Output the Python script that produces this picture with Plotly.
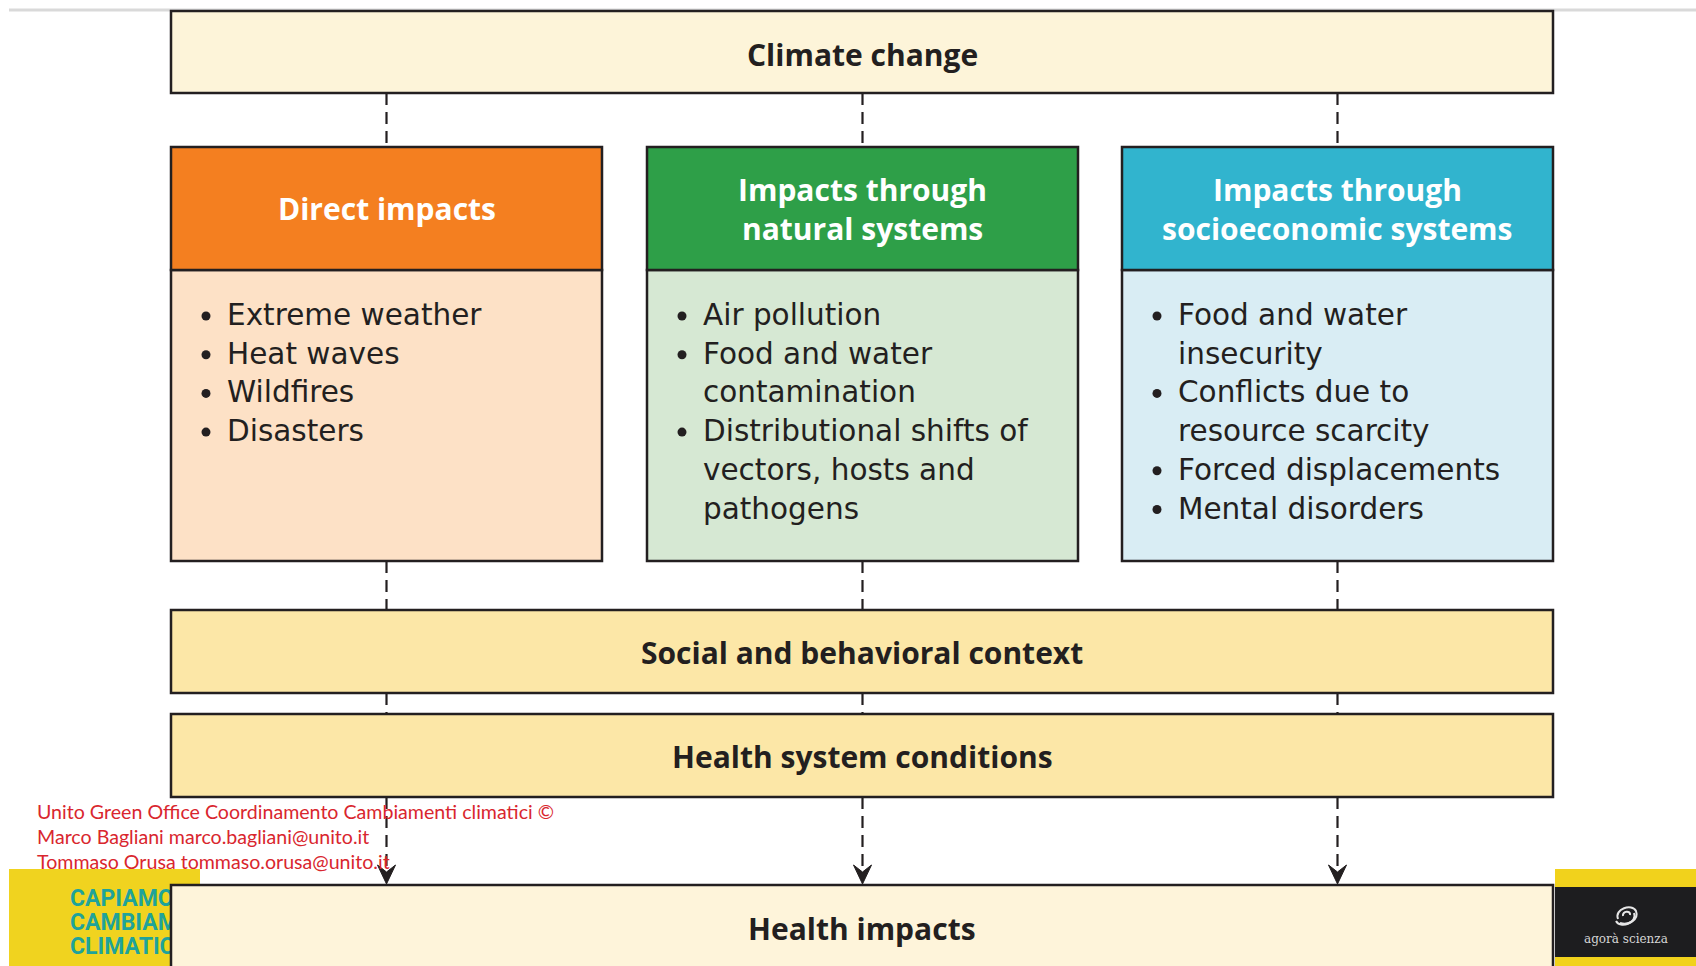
import plotly.graph_objects as go

# ---------------- content ----------------
TOP_LABEL = "Climate change"
PATHWAY_TITLES = [
    ["Direct impacts"],
    ["Impacts through", "natural systems"],
    ["Impacts through", "socioeconomic systems"],
]
PATHWAY_ITEMS = [
    [["Extreme weather"], ["Heat waves"], ["Wildfires"], ["Disasters"]],
    [["Air pollution"], ["Food and water", "contamination"],
     ["Distributional shifts of", "vectors, hosts and", "pathogens"]],
    [["Food and water", "insecurity"], ["Conflicts due to", "resource scarcity"],
     ["Forced displacements"], ["Mental disorders"]],
]
MODIFIER_LABELS = ["Social and behavioral context", "Health system conditions"]
OUTCOME_LABEL = "Health impacts"
CREDIT_LINES = [
    "Unito Green Office Coordinamento Cambiamenti climatici ©",
    "Marco Bagliani marco.bagliani@unito.it",
    "Tommaso Orusa tommaso.orusa@unito.it",
]
LOGO_LEFT_LINES = ["CAPIAMO", "CAMBIAMENTI", "CLIMATICI"]
LOGO_RIGHT_TEXT = "agorà scienza"

# ---------------- styles ----------------
HEADER_COLORS = ["#F47F20", "#2E9F48", "#31B4CE"]
BODY_COLORS = ["#FDE1C6", "#D6E8D3", "#D9EDF4"]
TOP_FILL = "#FDF4D9"
MOD_FILL = "#FCE7A7"
OUT_FILL = "#FEF4DA"
INK = "#231F20"
RED = "#D9262E"

W, H = 1696, 966
X_L, X_R = 171, 1553
COL_X0 = [171, 647, 1122]
COL_W = 431
TOP_Y = (11, 93)
COL_Y = (147, 270, 561)
MOD_Y = [(610, 693), (714, 797)]
OUT_Y = (885, 990)
LINE_H = 38.7
HEAD_LINE_H = 39
HEAD_FONT = "Open Sans"
BODY_FONT = "DejaVu Sans"

fig = go.Figure()

def rect(x0, y0, x1, y1, fill, lw=2.5, lc=INK, layer="above"):
    fig.add_shape(type="rect", x0=x0, y0=y0, x1=x1, y1=y1, xref="x", yref="y",
                  fillcolor=fill, line=dict(color=lc, width=lw), layer=layer)

def label(x, y, s, size, color, anchor="center", family=HEAD_FONT):
    fig.add_annotation(x=x, y=y, xref="x", yref="y", text=s, showarrow=False,
                       xanchor=anchor, yanchor="middle",
                       font=dict(family=family, size=size, color=color))

def dashed(x, y0, y1):
    fig.add_shape(type="line", x0=x, x1=x, y0=y0, y1=y1, xref="x", yref="y",
                  line=dict(color=INK, width=2.2, dash="12px,7px"), layer="above")

# top grey rule
fig.add_shape(type="line", x0=9, x1=W, y0=10, y1=10, xref="x", yref="y",
              line=dict(color="#D9D9D9", width=3), layer="below")

# left logo background (under the text trace)
fig.add_shape(type="rect", x0=9, y0=869, x1=200, y1=H + 5, xref="x", yref="y",
              fillcolor="#F0D31F", line=dict(width=0), layer="below")
fig.add_trace(go.Scatter(
    x=[70, 70, 70], y=[900, 924, 948], mode="text",
    text=["<b>%s</b>" % t for t in LOGO_LEFT_LINES], textposition="middle right",
    textfont=dict(family="Roboto", size=23, color="#1FA39A"),
    hoverinfo="skip", showlegend=False))

# climate change box
rect(X_L, TOP_Y[0], X_R, TOP_Y[1], TOP_FILL)
label((X_L + X_R) / 2, 54, "<b>%s</b>" % TOP_LABEL, 30, INK)

centers = [x0 + COL_W / 2 for x0 in COL_X0]

# connectors
for cx in centers:
    dashed(cx, TOP_Y[1], COL_Y[0])
    dashed(cx, COL_Y[2], MOD_Y[0][0])
    dashed(cx, MOD_Y[0][1], MOD_Y[1][0])
    dashed(cx, MOD_Y[1][1], OUT_Y[0] - 14)
    fig.add_shape(type="path", xref="x", yref="y",
                  path=f"M {cx} {OUT_Y[0]-1} L {cx-9} {OUT_Y[0]-20} L {cx} {OUT_Y[0]-13} L {cx+9} {OUT_Y[0]-20} Z",
                  fillcolor=INK, line=dict(color=INK, width=1), layer="above")

# pathway columns
bullet_x, bullet_y = [], []
for i, x0 in enumerate(COL_X0):
    x1 = x0 + COL_W
    rect(x0, COL_Y[1], x1, COL_Y[2], BODY_COLORS[i])
    rect(x0, COL_Y[0], x1, COL_Y[1], HEADER_COLORS[i])
    title = PATHWAY_TITLES[i]
    hc = (COL_Y[0] + COL_Y[1]) / 2
    y_start = hc - (len(title) - 1) * HEAD_LINE_H / 2
    for k, t in enumerate(title):
        label(centers[i], y_start + k * HEAD_LINE_H, "<b>%s</b>" % t, 30, "white")
    row = 0
    for item in PATHWAY_ITEMS[i]:
        bullet_x.append(x0 + 35)
        bullet_y.append(316 + row * LINE_H)
        for line in item:
            label(x0 + 54, 315 + row * LINE_H, line, 29.5, INK, anchor="left",
                  family=BODY_FONT)
            row += 1

for bx, by in zip(bullet_x, bullet_y):
    fig.add_shape(type="circle", xref="x", yref="y",
                  x0=bx - 4.5, x1=bx + 4.5, y0=by - 4.5, y1=by + 4.5,
                  fillcolor=INK, line=dict(width=0), layer="above")

# modifier bands
for (y0, y1), t in zip(MOD_Y, MODIFIER_LABELS):
    rect(X_L, y0, X_R, y1, MOD_FILL)
    label((X_L + X_R) / 2, (y0 + y1) / 2 + 1, "<b>%s</b>" % t, 30, INK)

# outcome box
rect(X_L, OUT_Y[0], X_R, OUT_Y[1], OUT_FILL)
label((X_L + X_R) / 2, 928, "<b>%s</b>" % OUTCOME_LABEL, 30, INK)

# credits
for k, t in enumerate(CREDIT_LINES):
    label(35, 811 + k * 25, t, 19.6, RED, anchor="left", family="Lato")

# right logo
fig.add_shape(type="rect", x0=1555, y0=869, x1=W + 5, y1=H + 5, xref="x", yref="y",
              fillcolor="#F1D21C", line=dict(width=0), layer="above")
fig.add_shape(type="rect", x0=1555, y0=887, x1=W + 5, y1=957, xref="x", yref="y",
              fillcolor="#1D1D1F", line=dict(width=0), layer="above")
fig.add_shape(type="path", xref="x", yref="y",
              path="M 1618 919 C 1614 909, 1632 903, 1636 911 C 1639 919, 1629 926, 1620 923",
              line=dict(color="#E6E6E6", width=2), layer="above")
fig.add_shape(type="path", xref="x", yref="y",
              path="M 1634 913 C 1638 923, 1620 929, 1616 921 M 1623 916 C 1622 911, 1631 910, 1630 915",
              line=dict(color="#E6E6E6", width=2), layer="above")
label(1626, 939, LOGO_RIGHT_TEXT, 12, "#D6D6D6", family="DejaVu Serif")

fig.update_layout(
    width=W, height=H, margin=dict(l=0, r=0, t=0, b=0),
    paper_bgcolor="white", plot_bgcolor="white", showlegend=False,
    xaxis=dict(range=[0, W], visible=False, fixedrange=True),
    yaxis=dict(range=[H, 0], visible=False, fixedrange=True),
)

fig.write_html("out.html", config={"displayModeBar": False},
               post_script="document.body.style.margin='0';document.body.style.overflow='hidden';")
